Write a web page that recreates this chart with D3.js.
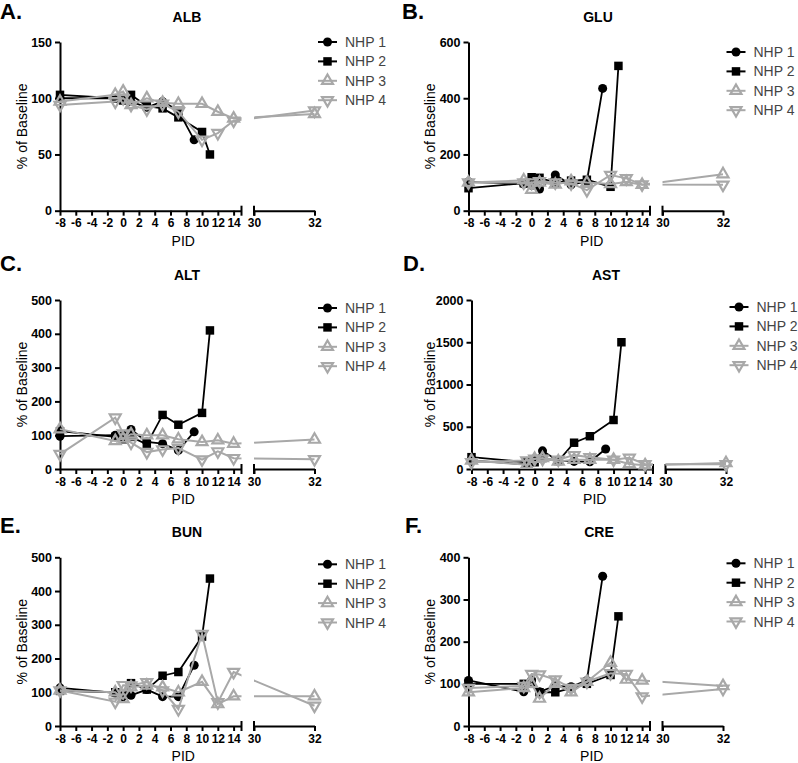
<!DOCTYPE html>
<html><head><meta charset="utf-8">
<script src="https://cdn.jsdelivr.net/npm/d3@7"></script>
<style>
body{margin:0;background:#fff;}
svg{display:block;font-family:"Liberation Sans",Arial,sans-serif;}
</style>
</head><body>
<svg id="c" width="798" height="763"></svg>
<script>
// ---------- data ----------
const seriesNames = ["NHP 1", "NHP 2", "NHP 3", "NHP 4"];
const days1 = [-8, -1, 0, 1, 3, 5, 7, 9];
const days2 = [-8, -1, 0, 1, 3, 5, 7, 10, 11];
const days34 = [-8, -1, 0, 1, 3, 5, 7, 10, 12, 14, 32];
const xTicks1 = [-8, -6, -4, -2, 0, 2, 4, 6, 8, 10, 12, 14];
const xTicks2 = [30, 32];

const panelTitles = ["ALB", "GLU", "ALT", "AST", "BUN", "CRE"];
const panelLetters = ["A.", "B.", "C.", "D.", "E.", "F."];

const alb1 = [100, 100, 100, 97, 92, 97, 89, 63];
const alb2 = [103, 100, 98, 103, 93, 91, 83, 70, 50];
const alb3 = [97, 103, 106, 94, 100, 96, 95, 95, 88, 82, 86];
const alb4 = [94, 97, 100, 94, 90, 95, 88, 63, 69, 80, 89];
const albTicks = [0, 50, 100, 150];

const glu1 = [103, 95, 90, 77, 127, 92, 105, 435];
const glu2 = [80, 98, 119, 117, 100, 107, 110, 85, 515];
const glu3 = [100, 108, 75, 100, 93, 105, 100, 95, 102, 92, 130];
const glu4 = [100, 100, 100, 105, 100, 97, 73, 127, 115, 93, 92];
const gluTicks = [0, 200, 400, 600];

const alt1 = [97, 100, 100, 117, 80, 75, 55, 110];
const alt2 = [112, 95, 88, 95, 73, 160, 131, 166, 410];
const alt3 = [118, 83, 90, 103, 100, 100, 88, 80, 85, 75, 87];
const alt4 = [44, 152, 105, 78, 50, 58, 62, 28, 52, 32, 29];
const altTicks = [0, 100, 200, 300, 400, 500];

const ast1 = [100, 55, 100, 215, 95, 90, 85, 236];
const ast2 = [140, 80, 80, 130, 95, 311, 388, 580, 1500];
const ast3 = [100, 50, 120, 130, 90, 110, 110, 110, 60, 45, 70];
const ast4 = [80, 100, 120, 120, 110, 164, 140, 110, 132, 56, 55];
const astTicks = [0, 500, 1000, 1500, 2000];

const bun1 = [113, 98, 87, 91, 108, 87, 87, 180];
const bun2 = [104, 100, 90, 127, 108, 149, 160, 265, 437];
const bun3 = [105, 100, 80, 115, 120, 115, 100, 131, 65, 88, 88];
const bun4 = [105, 72, 121, 120, 130, 105, 50, 273, 70, 160, 60];
const bunTicks = [0, 100, 200, 300, 400, 500];

const cre1 = [108, 81, 109, 81, 95, 93, 108, 355];
const cre2 = [100, 100, 100, 80, 80, 90, 100, 121, 260];
const cre3 = [80, 90, 100, 65, 100, 80, 105, 150, 110, 108, 95];
const cre4 = [90, 95, 123, 122, 110, 90, 105, 125, 123, 70, 88];
const creTicks = [0, 100, 200, 300, 400];

// ---------- layout ----------
const panelValues = [
  [alb1, alb2, alb3, alb4], [glu1, glu2, glu3, glu4],
  [alt1, alt2, alt3, alt4], [ast1, ast2, ast3, ast4],
  [bun1, bun2, bun3, bun4], [cre1, cre2, cre3, cre4]
];
const panelTicks = [albTicks, gluTicks, altTicks, astTicks, bunTicks, creTicks];
const seriesDays = [days1, days2, days34, days34];

const X0 = [60, 468.5, 60, 471.5, 60, 468.5];
const TOPS = [42, 300, 557.3];
const BOTS = [210.7, 469, 726];
const TITLE_X = [187, 598, 187, 606, 187, 599];
const LETTER_X = [0, 402, 0, 403, 0, 405];
const LETTER_Y = [19, 271, 533];
const LEG_OFF = [0, 10, 8, 7, 7, 6];
const YLAB_OFF = [37.5, 38.5, 37.5, 41, 37.5, 38.5];

const BLACK = "#000";
const GRAY = "#a8a8a8";
const colors = [BLACK, BLACK, GRAY, GRAY];
const shapes = ["circle", "square", "up", "down"];
const fmt = d => String(d);

const svg = d3.select("#c");

function marker(g, shape, color, x, y) {
  let sym;
  if (shape === "circle") sym = d3.symbol(d3.symbolCircle, 64);
  else if (shape === "square") sym = d3.symbol(d3.symbolSquare, 72);
  else sym = d3.symbol(d3.symbolTriangle, 52);
  const p = g.append("path").attr("d", sym())
    .attr("transform", `translate(${x},${y})` + (shape === "down" ? " rotate(180)" : ""));
  if (shape === "circle" || shape === "square") p.attr("fill", color).attr("stroke", "none");
  else p.attr("fill", "none").attr("stroke", color).attr("stroke-width", 2.2);
}

panelTitles.forEach((title, i) => {
  const row = Math.floor(i / 2);
  const x0 = X0[i], top = TOPS[row], bot = BOTS[row];
  const seg1End = x0 + 181.5, seg2Start = x0 + 194, seg2End = x0 + 254.5;
  const ticks = panelTicks[i];
  const yMax = ticks[ticks.length - 1];

  const x = d3.scaleLinear().domain([-8, 15, 30, 32]).range([x0, seg1End, seg2Start, seg2End]);
  const xa = d3.scaleLinear().domain([-8, 15]).range([x0, seg1End]);
  const xb = d3.scaleLinear().domain([30, 32]).range([seg2Start, seg2End]);
  const y = d3.scaleLinear().domain([0, yMax]).range([bot, top]);

  const g = svg.append("g");

  // panel letter & title
  g.append("text").attr("x", LETTER_X[i]).attr("y", LETTER_Y[row])
    .attr("font-size", 22).attr("font-weight", "bold").text(panelLetters[i]);
  g.append("text").attr("x", TITLE_X[i]).attr("y", top - 20)
    .attr("text-anchor", "middle").attr("font-size", 14).attr("font-weight", "bold").text(title);

  // y axis
  const yAxis = g.append("g").attr("transform", `translate(${x0},0)`)
    .call(d3.axisLeft(y).tickValues(ticks).tickFormat(fmt).tickSize(5).tickSizeOuter(0).tickPadding(3));
  yAxis.selectAll("path,line").attr("stroke", BLACK).attr("stroke-width", 2);
  yAxis.selectAll("text").attr("font-size", 12.5).attr("font-weight", "bold")
    .attr("font-family", "Liberation Sans,Arial,sans-serif").attr("fill", BLACK);

  // x axis segments
  [[xa, xTicks1], [xb, xTicks2]].forEach(([sc, tv]) => {
    const ax = g.append("g").attr("transform", `translate(0,${bot})`)
      .call(d3.axisBottom(sc).tickValues(tv).tickFormat(fmt).tickSize(5).tickSizeOuter(0).tickPadding(3));
    ax.selectAll("path,line").attr("stroke", BLACK).attr("stroke-width", 2);
    ax.selectAll("text").attr("font-size", 12).attr("font-weight", "bold")
      .attr("font-family", "Liberation Sans,Arial,sans-serif").attr("fill", BLACK);
  });
  // break marks
  [seg1End, seg2Start].forEach(bx => {
    g.append("line").attr("x1", bx).attr("x2", bx).attr("y1", bot - 5).attr("y2", bot + 5)
      .attr("stroke", BLACK).attr("stroke-width", 2);
  });

  // axis titles
  g.append("text").attr("transform", `translate(${x0 - YLAB_OFF[i]},${(top + bot) / 2}) rotate(-90)`)
    .attr("text-anchor", "middle").attr("dy", "0.35em").attr("font-size", 14).text("% of Baseline");
  g.append("text").attr("x", (x0 + seg2End) / 2 - 4).attr("y", bot + 35)
    .attr("text-anchor", "middle").attr("font-size", 14).text("PID");

  // clip (broken axis gap)
  const cid = "clip" + i;
  const cp = svg.append("defs").append("clipPath").attr("id", cid);
  cp.append("rect").attr("x", x0 - 20).attr("y", top - 30).attr("width", seg1End - x0 + 20).attr("height", bot - top + 40);
  cp.append("rect").attr("x", seg2Start).attr("y", top - 30).attr("width", 80).attr("height", bot - top + 40);

  // series
  const line = d3.line().x(d => x(d[0])).y(d => y(d[1]));
  panelValues[i].forEach((vals, s) => {
    const pts = seriesDays[s].map((d, k) => [d, vals[k]]);
    g.append("path").attr("d", line(pts)).attr("fill", "none")
      .attr("stroke", colors[s]).attr("stroke-width", s < 2 ? 1.8 : 2)
      .attr("clip-path", `url(#${cid})`);
    const mg = g.append("g");
    pts.forEach(p => marker(mg, shapes[s], colors[s], x(p[0]), y(p[1])));
  });

  // legend
  const lx = x0 + 258, ly0 = top + LEG_OFF[i];
  seriesNames.forEach((nm, s) => {
    const ly = ly0 + s * 19.4;
    g.append("line").attr("x1", lx).attr("x2", lx + 19).attr("y1", ly).attr("y2", ly)
      .attr("stroke", colors[s]).attr("stroke-width", 2);
    marker(g, shapes[s], colors[s], lx + 9.5, ly);
    g.append("text").attr("x", lx + 27).attr("y", ly).attr("dy", "0.36em")
      .attr("font-size", 14).attr("fill", "#444").text(nm);
  });
});
</script>
</body></html>
